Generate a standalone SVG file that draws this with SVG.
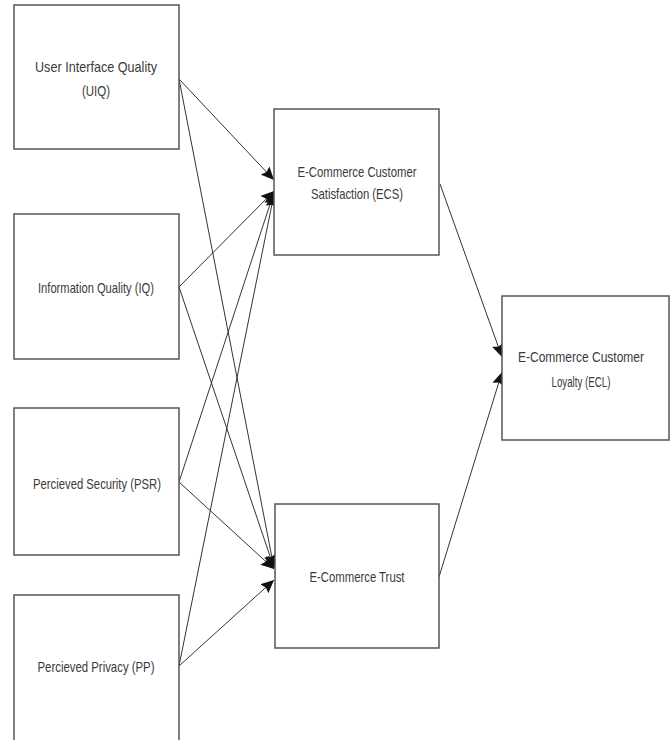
<svg xmlns="http://www.w3.org/2000/svg" width="672" height="740" viewBox="0 0 672 740">
<style>
.box{fill:#fff;stroke:#555;stroke-width:1.5}
.lbl{font-family:"Liberation Sans",Arial,sans-serif;font-size:15px;fill:#3a3a3a;text-anchor:middle}
.sm{font-size:14px}
.edge{stroke:#333;stroke-width:1;fill:none;marker-end:url(#ah)}
</style>
<defs>
<marker id="ah" markerUnits="userSpaceOnUse" markerWidth="14" markerHeight="12" refX="13" refY="6" orient="auto">
<path d="M0,0 L13,6 L0,12 L2,6 z" fill="#111"/>
</marker>
</defs>
<rect width="672" height="740" fill="#fff"/>
<g id="connectors">
<line class="edge" x1="179" y1="79" x2="274" y2="180"/>
<line class="edge" x1="179" y1="79" x2="274" y2="568"/>
<line class="edge" x1="179" y1="287" x2="274" y2="191"/>
<line class="edge" x1="179" y1="287" x2="274" y2="568"/>
<line class="edge" x1="179" y1="482" x2="274" y2="192"/>
<line class="edge" x1="179" y1="482" x2="274" y2="569"/>
<line class="edge" x1="179" y1="666" x2="274" y2="194"/>
<line class="edge" x1="179" y1="666" x2="274" y2="580"/>
<line class="edge" x1="440" y1="184" x2="502" y2="357"/>
<line class="edge" x1="439" y1="577" x2="502" y2="372"/>
</g>
<g id="uiq">
<rect class="box" x="14" y="5" width="165" height="144"/>
<text class="lbl" x="96" y="72" textLength="122" lengthAdjust="spacingAndGlyphs">User Interface Quality</text>
<text class="lbl" x="96" y="96" textLength="28" lengthAdjust="spacingAndGlyphs">(UIQ)</text>
</g>
<g id="iq">
<rect class="box" x="14" y="214" width="165" height="145"/>
<text class="lbl" x="96" y="293" textLength="116" lengthAdjust="spacingAndGlyphs">Information Quality (IQ)</text>
</g>
<g id="psr">
<rect class="box" x="14" y="408" width="165" height="147"/>
<text class="lbl" x="97" y="489" textLength="128" lengthAdjust="spacingAndGlyphs">Percieved Security (PSR)</text>
</g>
<g id="pp">
<rect class="box" x="14" y="595" width="165" height="160"/>
<text class="lbl" x="96" y="672" textLength="117" lengthAdjust="spacingAndGlyphs">Percieved Privacy (PP)</text>
</g>
<g id="ecs">
<rect class="box" x="274" y="109" width="165" height="146"/>
<text class="lbl" x="357" y="177" textLength="119" lengthAdjust="spacingAndGlyphs">E-Commerce Customer</text>
<text class="lbl" x="357" y="199" textLength="92" lengthAdjust="spacingAndGlyphs">Satisfaction (ECS)</text>
</g>
<g id="trust">
<rect class="box" x="275" y="504" width="164" height="144"/>
<text class="lbl" x="357" y="582" textLength="95" lengthAdjust="spacingAndGlyphs">E-Commerce Trust</text>
</g>
<g id="ecl">
<rect class="box" x="502" y="296" width="167" height="144"/>
<text class="lbl sm" x="581" y="362" textLength="126" lengthAdjust="spacingAndGlyphs">E-Commerce Customer</text>
<text class="lbl sm" x="581" y="387" textLength="59" lengthAdjust="spacingAndGlyphs">Loyalty (ECL)</text>
</g>
</svg>
